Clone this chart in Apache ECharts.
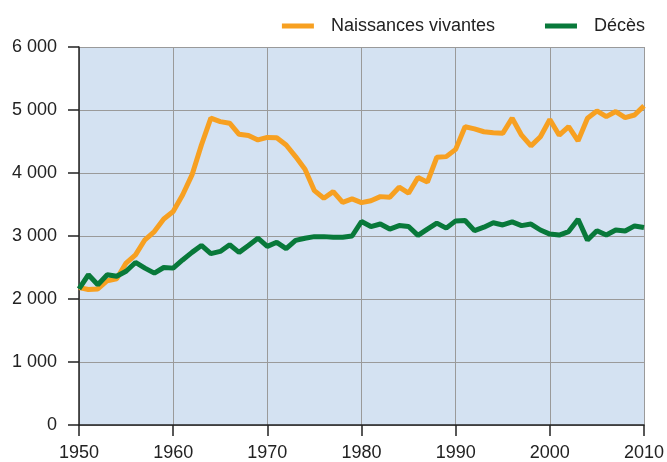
<!DOCTYPE html>
<html>
<head>
<meta charset="utf-8">
<script src="https://cdn.jsdelivr.net/npm/echarts@6/dist/echarts.min.js"></script>
<style>
  html, body { margin: 0; padding: 0; background: #fff; }
  #chart { width: 667px; height: 462px; }
</style>
</head>
<body>
<div id="chart"></div>
<script>
var startYear = 1950;
var naissances = [
  2180, 2150, 2160, 2290, 2320, 2570, 2700, 2940, 3070, 3270,
  3390, 3650, 3970, 4445, 4870, 4815, 4790, 4615, 4595, 4525,
  4565, 4560, 4445, 4260, 4060, 3720, 3600, 3705, 3535, 3590,
  3530, 3560, 3625, 3615, 3775, 3680, 3930, 3855, 4250, 4260,
  4375, 4735, 4700, 4655, 4640, 4630, 4870, 4600, 4430, 4575,
  4850, 4600, 4735, 4510, 4870, 4985, 4895, 4975, 4880, 4920,
  5065
];
var deces = [
  2160, 2385, 2225, 2385, 2360, 2440, 2580, 2490, 2410, 2500,
  2490, 2620, 2740, 2850, 2720, 2755, 2860, 2740, 2850, 2965,
  2835, 2900, 2800, 2930, 2965, 2990, 2990, 2980, 2980, 3000,
  3230, 3150, 3190, 3110, 3165, 3150, 3010, 3110, 3205, 3125,
  3240, 3245, 3085, 3140, 3210, 3175, 3225, 3165, 3190, 3095,
  3030, 3015, 3070, 3265, 2935, 3085, 3015, 3095, 3080, 3160,
  3135
];

function toPairs(values) {
  var out = [];
  for (var i = 0; i < values.length; i++) {
    out.push([startYear + i, values[i]]);
  }
  return out;
}

// 6000 -> "6 000"
function frNumber(v) {
  if (v < 1000) return String(v);
  return Math.floor(v / 1000) + ' ' + ('00' + (v % 1000)).slice(-3);
}

var chart = echarts.init(document.getElementById('chart'));
chart.setOption({
  animation: false,
  textStyle: { fontFamily: 'Liberation Sans, Arial, sans-serif' },
  legend: {
    top: 12,
    right: 17,
    itemWidth: 32,
    itemHeight: 5,
    itemGap: 50,
    icon: 'rect',
    textStyle: { fontSize: 18, color: '#222', padding: [0, 0, 0, 12] },
    data: ['Naissances vivantes', 'Décès']
  },
  grid: {
    left: 79, right: 20, top: 47, bottom: 36,
    show: true,
    backgroundColor: '#d4e2f2',
    borderWidth: 0
  },
  xAxis: {
    type: 'value',
    min: 1950, max: 2010, interval: 10,
    axisLine: { lineStyle: { color: '#222', width: 1.5 } },
    axisTick: { show: true, length: 11, lineStyle: { color: '#222', width: 1.5 } },
    axisLabel: { fontSize: 18, color: '#222', margin: 19, formatter: function (v) { return String(v); } },
    splitLine: { show: true, lineStyle: { color: '#9a9a9a', width: 1 } }
  },
  yAxis: {
    type: 'value',
    min: 0, max: 6000, interval: 1000,
    axisLine: { show: true, lineStyle: { color: '#222', width: 1.5 } },
    axisTick: { show: true, length: 11, lineStyle: { color: '#222', width: 1.5 } },
    axisLabel: { fontSize: 18, color: '#222', margin: 22, formatter: frNumber },
    splitLine: { show: true, lineStyle: { color: '#9a9a9a', width: 1 } }
  },
  series: [
    {
      name: 'Naissances vivantes',
      type: 'line',
      symbol: 'none',
      color: '#f7a021',
      lineStyle: { width: 5, color: '#f7a021' },
      data: toPairs(naissances)
    },
    {
      name: 'Décès',
      type: 'line',
      symbol: 'none',
      color: '#08793a',
      lineStyle: { width: 5, color: '#08793a' },
      data: toPairs(deces)
    }
  ]
});
</script>
</body>
</html>
